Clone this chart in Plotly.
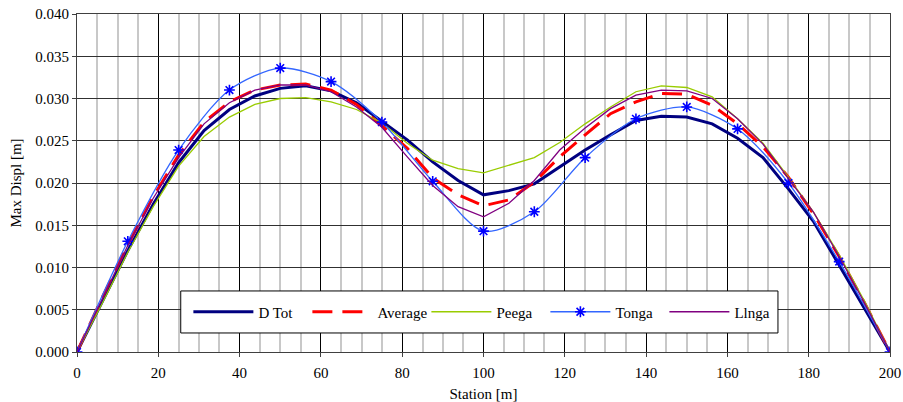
import plotly.graph_objects as go

station = [0, 6.25, 12.5, 18.75, 25, 31.25, 37.5, 43.75, 50, 56.25, 62.5, 68.75, 75, 81.25,
           87.5, 93.75, 100, 106.25, 112.5, 118.75, 125, 131.25, 137.5, 143.75, 150, 156.25,
           162.5, 168.75, 175, 181.25, 187.5, 193.75, 200]

d_tot = [0.0, 0.0060, 0.0120, 0.0175, 0.0224, 0.0262, 0.0287, 0.0303, 0.0312, 0.0315, 0.0309,
         0.0295, 0.0273, 0.0251, 0.0225, 0.0203, 0.0186, 0.0191, 0.0199, 0.0219, 0.0239, 0.0257,
         0.0274, 0.0279, 0.0278, 0.0270, 0.0253, 0.0230, 0.0193, 0.0154, 0.0103, 0.0051, 0.0]

average = [0.0, 0.0065, 0.0127, 0.0184, 0.0233, 0.0272, 0.0296, 0.0310, 0.0316, 0.0317, 0.0310,
           0.0293, 0.0268, 0.0241, 0.0206, 0.0186, 0.0173, 0.0180, 0.0201, 0.0231, 0.0257, 0.0282,
           0.0296, 0.0306, 0.0305, 0.0292, 0.0270, 0.0243, 0.0207, 0.0163, 0.0113, 0.0058, 0.0]

peega = [0.0, 0.0058, 0.0118, 0.0172, 0.0220, 0.0255, 0.0278, 0.0293, 0.0300, 0.0301, 0.0296,
         0.0287, 0.0271, 0.0247, 0.0227, 0.0217, 0.0212, 0.0221, 0.0230, 0.0248, 0.0270, 0.0290,
         0.0308, 0.0315, 0.0313, 0.0302, 0.0276, 0.0247, 0.0207, 0.0165, 0.0115, 0.0060, 0.0]

llnga = [0.0, 0.0064, 0.0126, 0.0182, 0.0230, 0.0270, 0.0295, 0.0310, 0.0316, 0.0316, 0.0308,
         0.0290, 0.0266, 0.0231, 0.0197, 0.0172, 0.0160, 0.0176, 0.0203, 0.0239, 0.0265, 0.0288,
         0.0304, 0.0310, 0.0309, 0.0300, 0.0276, 0.0246, 0.0206, 0.0165, 0.0113, 0.0058, 0.0]

tonga_station = [0, 12.5, 25, 37.5, 50, 62.5, 75, 87.5, 100, 112.5, 125, 137.5, 150, 162.5,
                 175, 187.5, 200]
tonga = [0.0, 0.0131, 0.0239, 0.0310, 0.0336, 0.0320, 0.0272, 0.0202, 0.0143, 0.0166, 0.0230,
         0.0276, 0.0290, 0.0264, 0.0200, 0.0107, 0.0]

FONT = "Times New Roman, Liberation Serif, serif"

fig = go.Figure()
fig.add_trace(go.Scatter(x=station, y=d_tot, name="D Tot", mode="lines",
                         line=dict(color="#000080", width=3)))
fig.add_trace(go.Scatter(x=station, y=average, name="Average", mode="lines",
                         line=dict(color="#FF0000", width=3, dash="20px,10px")))
fig.add_trace(go.Scatter(x=station, y=peega, name="Peega", mode="lines",
                         line=dict(color="#99CC00", width=1.3)))
fig.add_trace(go.Scatter(x=tonga_station, y=tonga, name="Tonga", mode="lines+markers",
                         line=dict(color="#3366FF", width=1.3, shape="spline", smoothing=0.8),
                         marker=dict(symbol="asterisk-open", size=9, color="#0000FF",
                                     line=dict(color="#0000FF", width=1.6))))
fig.add_trace(go.Scatter(x=station, y=llnga, name="Llnga", mode="lines",
                         line=dict(color="#800080", width=1.3)))

# legend frame
fig.add_shape(type="rect", xref="paper", yref="paper", x0=0.1276, x1=0.8622, y0=0.0563, y1=0.1806,
              fillcolor="white", line=dict(color="black", width=1), layer="above")

fig.update_layout(
    width=903, height=402,
    margin=dict(l=77, r=13, t=14, b=50, autoexpand=False),
    paper_bgcolor="white", plot_bgcolor="white",
    font=dict(family=FONT, size=15, color="black"),
    showlegend=True,
    legend=dict(orientation="h", x=0.137, y=0.1184, xanchor="left", yanchor="middle",
                bgcolor="rgba(0,0,0,0)", borderwidth=0, itemwidth=60,
                entrywidth=44, entrywidthmode="pixels",
                font=dict(family=FONT, size=15, color="black")),
    xaxis=dict(range=[0, 200], dtick=20, tick0=0, showgrid=True, gridcolor="#000000", gridwidth=1,
               minor=dict(dtick=5, showgrid=True, gridcolor="#C8C8C8", gridwidth=1.5),
               showline=True, linecolor="#404040", linewidth=1.2, mirror=True,
               ticks="outside", ticklen=4, tickcolor="#404040", zeroline=False, automargin=False,
               ticklabelstandoff=3,
               title=dict(text="Station [m]", standoff=8, font=dict(size=15, family=FONT)),
               tickfont=dict(size=15, family=FONT)),
    yaxis=dict(range=[0, 0.04], dtick=0.005, tick0=0, tickformat=".3f", showgrid=True,
               gridcolor="#303030", gridwidth=1,
               showline=True, linecolor="#404040", linewidth=1.2, mirror=True,
               ticks="outside", ticklen=4, tickcolor="#404040", zeroline=False, automargin=False,
               title=dict(text="Max Displ [m]", standoff=9, font=dict(size=15, family=FONT)),
               tickfont=dict(size=15, family=FONT)),
)

fig.write_html("out.html")
